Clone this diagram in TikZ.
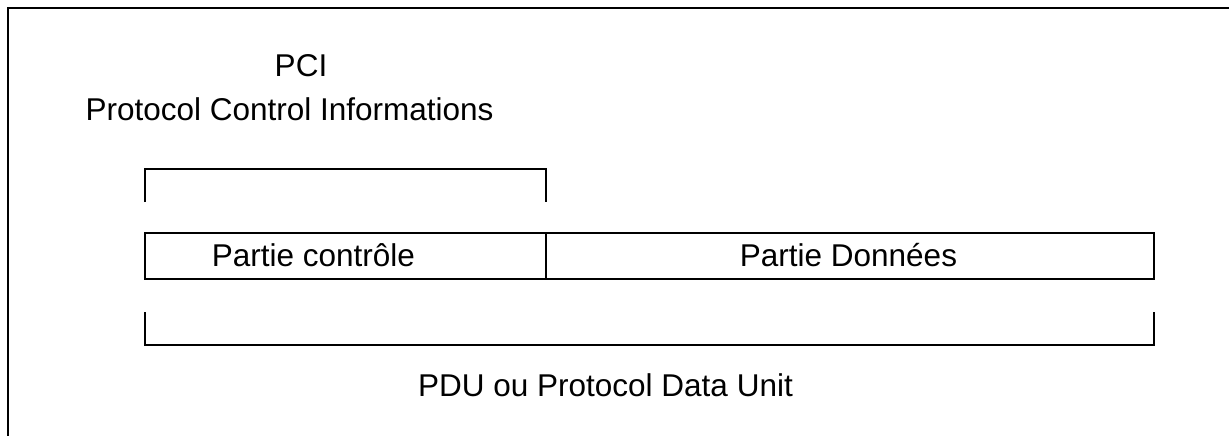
\documentclass[tikz,border=0pt]{standalone}
\usepackage{fontspec}
\setmainfont{Liberation Sans}
\usetikzlibrary{calc}
\tikzset{
  frame/.style={line width=2.4pt, draw=black},
  cell/.style={draw=black, line width=2.4pt, rectangle, inner sep=0pt, outer sep=0pt,
               minimum height=46pt},
  lbl/.style={anchor=base, inner sep=0pt, font=\fontsize{31.5}{38}\selectfont},
  brk/.style={draw=black, line width=2.4pt, line join=miter}
}
\begin{document}
\begin{tikzpicture}[x=1pt, y=-1pt]
  \clip (0,0) rectangle (1229,436);
  \fill[white] (0,0) rectangle (1229,436);
  % open frame (left and top edges)
  \draw[frame] (8,445) -- (8,8) -- (1240,8);

  % the PDU: control part and data part
  \node[cell, minimum width=401pt, anchor=north west] (ctrl) at (145,233) {};
  \node[cell, minimum width=608pt, anchor=north west] (data) at (ctrl.north east) {};

  \node[lbl] (tctrl) at (313.5,266) {Partie contrôle};
  \node[lbl] (tdata) at (848.5,266) {Partie Données};

  % bracket over the control part
  \draw[brk] ($(ctrl.north west)+(0,-31)$) -- ++(0,-33) -| ($(ctrl.north east)+(0,-31)$);
  % bracket under the whole unit
  \draw[brk] ($(ctrl.south west)+(0,33)$) -- ++(0,33) -| ($(data.south east)+(0,33)$);

  \node[lbl] (pci) at (301,77) {PCI};
  \node[lbl] (pcifull) at (289.5,121) {Protocol Control Informations};
  \node[lbl] (pdu) at (605.5,396) {PDU ou Protocol Data Unit};
\end{tikzpicture}
\end{document}
